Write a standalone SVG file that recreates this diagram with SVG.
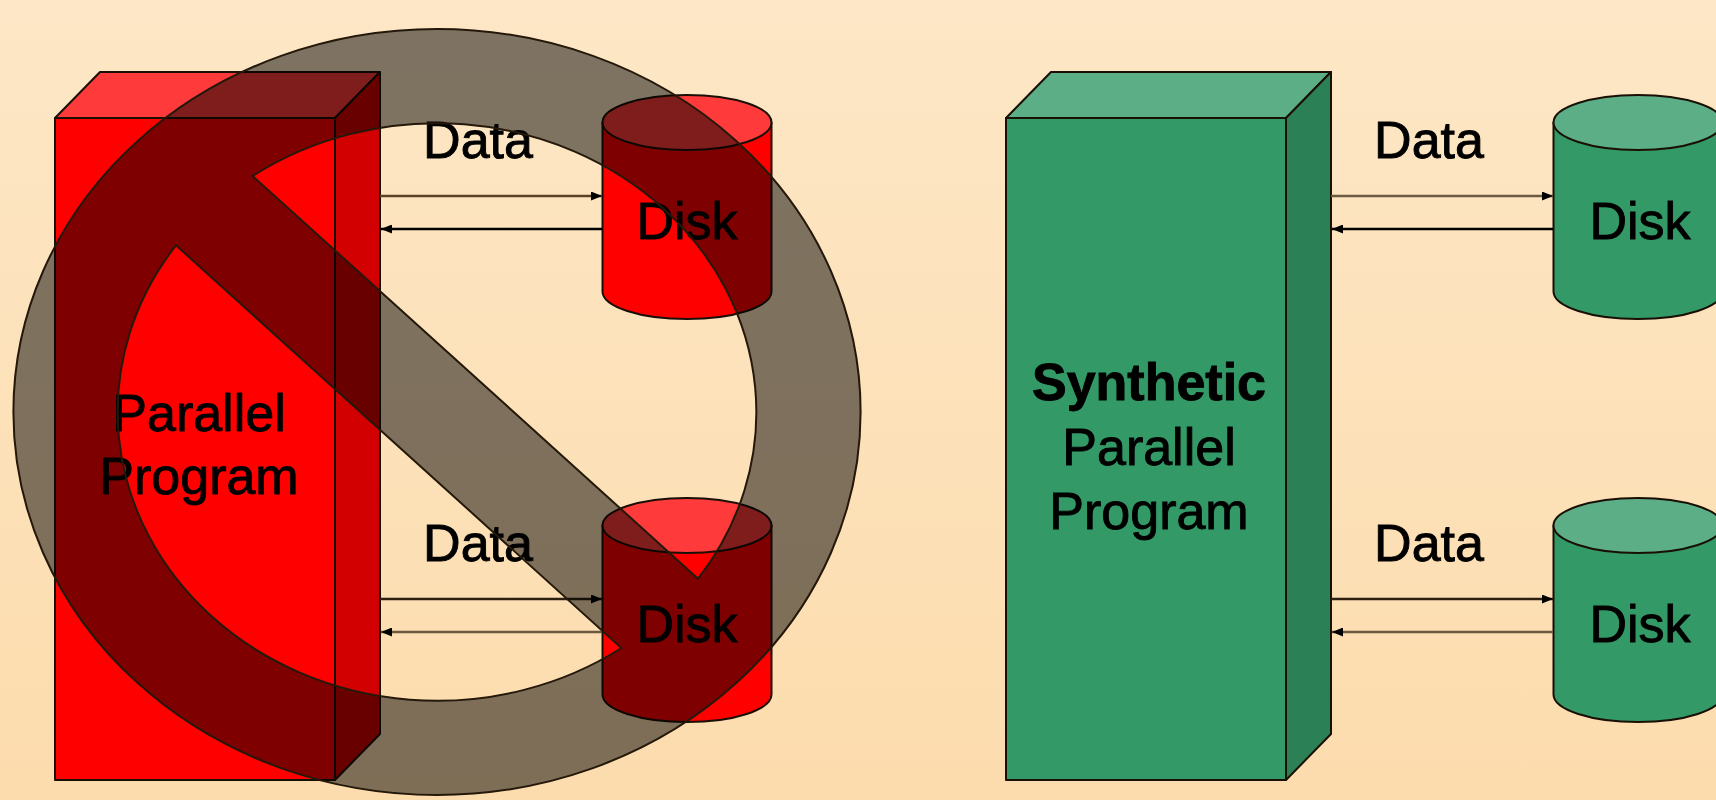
<svg xmlns="http://www.w3.org/2000/svg" width="1716" height="800" viewBox="0 0 1716 800">
  <defs>
    <linearGradient id="bgGrad" x1="0" y1="0" x2="0" y2="1">
      <stop offset="0" stop-color="#fde7c6"/>
      <stop offset="1" stop-color="#fcdcad"/>
    </linearGradient>
    <marker id="ah" markerWidth="11" markerHeight="9" refX="11" refY="4.5" orient="auto" markerUnits="userSpaceOnUse">
      <path d="M0,0 L11,4.5 L0,9 Z" fill="#000"/>
    </marker>
    <style>
      .edge { stroke: #1a0f05; stroke-width: 2; stroke-linejoin: round; }
      .r-front { fill: #ff0000; }
      .r-top { fill: #ff3a3a; }
      .r-side { fill: #d20000; }
      .g-front { fill: #339966; }
      .g-top { fill: #5cae86; }
      .g-side { fill: #2b8056; }
      .lbl { font-family: "Liberation Sans", Arial, sans-serif; font-size: 52px; fill: #000; stroke: #000; stroke-width: 0.9; text-anchor: middle; }
      .bold { font-weight: bold; }
      .arr { stroke-width: 2.5; fill: none; marker-end: url(#ah); }
      .sign { fill: #000; fill-opacity: 0.5; fill-rule: evenodd; stroke: #24180a; stroke-width: 2; vector-effect: non-scaling-stroke; }
    </style>
  </defs>

  <rect id="background" x="0" y="0" width="1716" height="800" fill="url(#bgGrad)"/>

  <!-- Left diagram -->
  <g id="box-parallel">
    <rect class="r-front edge" x="55" y="118" width="280" height="662"/>
    <polygon class="r-top edge" points="55,118 100,72 380,72 335,118"/>
    <polygon class="r-side edge" points="335,118 380,72 380,734 335,780"/>
    <text class="lbl" x="199" y="431">Parallel</text>
    <text class="lbl" x="199" y="494">Program</text>
  </g>

  <g id="disk-1">
    <path class="r-front edge" d="M602.5,122.5 V291.5 A84.5,27.5 0 0 0 771.5,291.5 V122.5 Z"/>
    <ellipse class="r-top edge" cx="687" cy="122.5" rx="84.5" ry="27.5"/>
    <text class="lbl" x="687" y="239">Disk</text>
  </g>

  <g id="disk-2">
    <path class="r-front edge" d="M602.5,525.5 V694.5 A84.5,27.5 0 0 0 771.5,694.5 V525.5 Z"/>
    <ellipse class="r-top edge" cx="687" cy="525.5" rx="84.5" ry="27.5"/>
    <text class="lbl" x="687" y="642">Disk</text>
  </g>

  <g id="connectors-left">
    <line class="arr" x1="380" y1="196" x2="602" y2="196" stroke="#5a4324"/>
    <line class="arr" x1="602" y1="229" x2="381" y2="229" stroke="#000"/>
    <line class="arr" x1="380" y1="599" x2="602" y2="599" stroke="#2e2010"/>
    <line class="arr" x1="602" y1="632" x2="381" y2="632" stroke="#6b5a40"/>
    <text class="lbl" x="478" y="158">Data</text>
    <text class="lbl" x="478" y="561">Data</text>
  </g>

  <g id="prohibition-sign" transform="translate(437,412) scale(1.106,1)">
    <path class="sign" d="M-383,0 A383,383 0 1 0 383,0 A383,383 0 1 0 -383,0 Z
      M236,166.7 A289,289 0 0 0 -166.7,-236 Z
      M166.7,236 A289,289 0 0 1 -236,-166.7 Z"/>
  </g>

  <!-- Right diagram -->
  <g id="box-synthetic">
    <rect class="g-front edge" x="1006" y="118" width="280" height="662"/>
    <polygon class="g-top edge" points="1006,118 1051,72 1331,72 1286,118"/>
    <polygon class="g-side edge" points="1286,118 1331,72 1331,734 1286,780"/>
    <text class="lbl bold" x="1149" y="400">Synthetic</text>
    <text class="lbl" x="1149" y="465">Parallel</text>
    <text class="lbl" x="1149" y="529">Program</text>
  </g>

  <g id="disk-3">
    <path class="g-front edge" d="M1553.5,122.5 V291.5 A84.5,27.5 0 0 0 1722.5,291.5 V122.5 Z"/>
    <ellipse class="g-top edge" cx="1638" cy="122.5" rx="84.5" ry="27.5"/>
    <text class="lbl" x="1640" y="239">Disk</text>
  </g>

  <g id="disk-4">
    <path class="g-front edge" d="M1553.5,525.5 V694.5 A84.5,27.5 0 0 0 1722.5,694.5 V525.5 Z"/>
    <ellipse class="g-top edge" cx="1638" cy="525.5" rx="84.5" ry="27.5"/>
    <text class="lbl" x="1640" y="642">Disk</text>
  </g>

  <g id="connectors-right">
    <line class="arr" x1="1331" y1="196" x2="1553" y2="196" stroke="#6b5a40"/>
    <line class="arr" x1="1553" y1="229" x2="1332" y2="229" stroke="#000"/>
    <line class="arr" x1="1331" y1="599" x2="1553" y2="599" stroke="#2e2010"/>
    <line class="arr" x1="1553" y1="632" x2="1332" y2="632" stroke="#6b5a40"/>
    <text class="lbl" x="1429" y="158">Data</text>
    <text class="lbl" x="1429" y="561">Data</text>
  </g>
</svg>
